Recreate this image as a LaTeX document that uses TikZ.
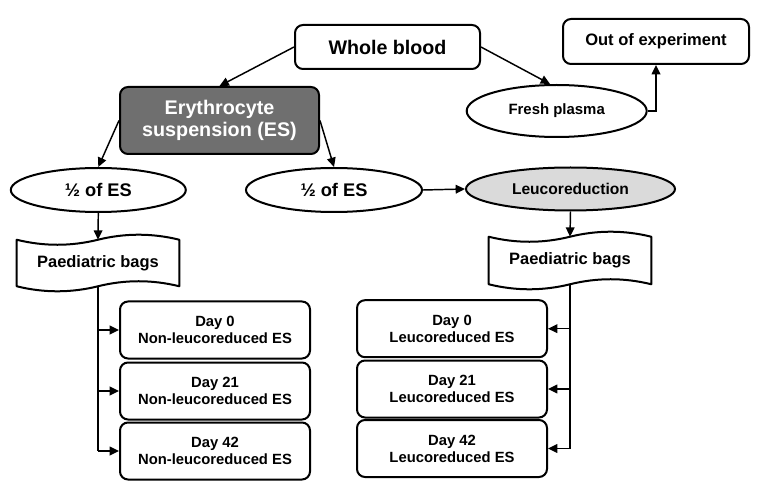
\documentclass[tikz,border=0pt]{standalone}
\usepackage{fontspec}
\setmainfont{Liberation Sans}
\usetikzlibrary{shapes.geometric,arrows.meta}
\definecolor{esgray}{HTML}{6F6F6F}
\definecolor{lrgray}{HTML}{DADADA}
\begin{document}
\begin{tikzpicture}[x=0.75pt,y=-0.75pt,
  box/.style={draw,line width=1.5pt,rounded corners=6pt,inner sep=0pt,align=center,font=\bfseries},
  oval/.style={draw,ellipse,line width=1.5pt,inner sep=0pt,align=center,font=\bfseries},
  daybox/.style={box,minimum width=142.5pt,minimum height=42.75pt,font=\bfseries\fontsize{11.1}{12.75}\selectfont},
  bagnode/.style={inner sep=0pt,minimum width=121.5pt,font=\bfseries\fontsize{12.35}{14}\selectfont},
  bagline/.style={line width=1.5pt,line join=round},
  arr/.style={line width=1.1pt,-{Triangle[length=7pt,width=6.5pt]}},
  ln/.style={line width=1.1pt}]
\useasboundingbox (0,0) rectangle (771,502);

\node[box,minimum width=138.75pt,minimum height=33pt,font=\bfseries\fontsize{14.75}{17}\selectfont] (wb) at (387.5,47) {Whole blood};
\node[box,minimum width=139.5pt,minimum height=33.75pt,font=\bfseries\fontsize{12.4}{14}\selectfont] (oe) at (656,41.5) {Out of experiment};
\node[oval,minimum width=135pt,minimum height=39pt,font=\bfseries\fontsize{11.2}{13}\selectfont] (fp) at (556.7,111) {Fresh plasma};
\node[box,fill=esgray,text=white,minimum width=149.25pt,minimum height=50.25pt,font=\bfseries\fontsize{14.8}{16.2}\selectfont] (es) at (219.5,120.5) {Erythrocyte\\suspension (ES)};
\node[oval,minimum width=131.25pt,minimum height=33pt,font=\bfseries\fontsize{13.7}{16}\selectfont] (lh) at (98.3,190) {½ of ES};
\node[oval,minimum width=132pt,minimum height=33pt,font=\bfseries\fontsize{13.7}{16}\selectfont] (rh) at (334,190) {½ of ES};
\node[oval,fill=lrgray,minimum width=156.75pt,minimum height=32.25pt,font=\bfseries\fontsize{11.7}{14}\selectfont] (lr) at (570.5,189) {Leucoreduction};

\node[bagnode,minimum height=34.5pt] (lb) at (98,263) {Paediatric bags};
\node[bagnode,minimum height=35.25pt] (rb) at (570,260.5) {Paediatric bags};
\foreach \b in {lb,rb}{
  \draw[bagline] (\b.north west) .. controls +(27,6.7) and +(-27,6.7) .. (\b.north)
    .. controls +(27,-6.7) and +(-27,-6.7) .. (\b.north east) -- (\b.south east)
    .. controls +(-27,-6.7) and +(27,-6.7) .. (\b.south)
    .. controls +(-27,6.7) and +(27,6.7) .. (\b.south west) -- cycle;
}

\node[daybox] (n1) at (215,330) {Day 0\\Non-leucoreduced ES};
\node[daybox] (n2) at (215,391) {Day 21\\Non-leucoreduced ES};
\node[daybox] (n3) at (215,451) {Day 42\\Non-leucoreduced ES};
\node[daybox] (l1) at (452,328.7) {Day 0\\Leucoreduced ES};
\node[daybox] (l2) at (452,389) {Day 21\\Leucoreduced ES};
\node[daybox] (l3) at (452,448.5) {Day 42\\Leucoreduced ES};

\draw[arr] (wb.west) -- (es.north);
\draw[arr] (wb.east) -- ([xshift=-5]fp.north);
\draw[arr] (fp.east) -| (oe.south);
\draw[arr] (es.west) -- (lh.north);
\draw[arr] (es.east) -- (rh.north);
\draw[arr] (rh.east) -- (lr.west);
\draw[arr] (lh.south) -- (lb.north);
\draw[arr] (lr.south) -- (rb.north);

\draw[ln] (lb.south) -- (lb.south |- n3.west);
\draw[arr] (lb.south |- n1.west) -- (n1.west);
\draw[arr] (lb.south |- n2.west) -- (n2.west);
\draw[arr] (lb.south |- n3.west) -- (n3.west);
\draw[ln] (rb.south) -- (rb.south |- l3.east);
\draw[arr] (rb.south |- l1.east) -- (l1.east);
\draw[arr] (rb.south |- l2.east) -- (l2.east);
\draw[arr] (rb.south |- l3.east) -- (l3.east);
\end{tikzpicture}
\end{document}
